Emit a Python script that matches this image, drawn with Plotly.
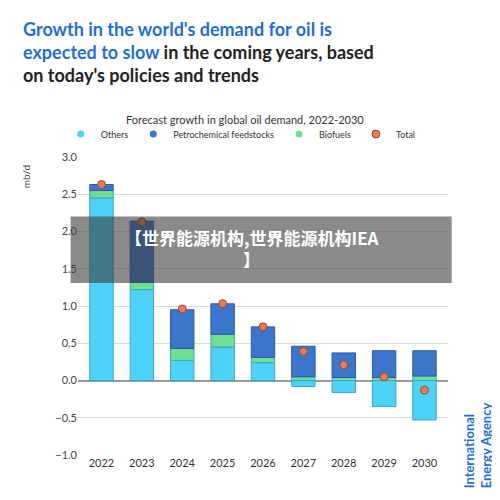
import plotly.graph_objects as go

years = ["2022","2023","2024","2025","2026","2027","2028","2029","2030"]
others = [2.45, 1.22, 0.27, 0.45, 0.24, -0.08, -0.16, -0.35, -0.53]
biofuels = [0.10, 0.10, 0.16, 0.17, 0.07, 0.05, 0.04, 0.04, 0.06]
petro = [0.08, 0.82, 0.52, 0.41, 0.41, 0.41, 0.33, 0.36, 0.34]
total = [2.63, 2.13, 0.96, 1.03, 0.72, 0.39, 0.21, 0.05, -0.13]

C_OTH, C_PET, C_BIO, C_TOT = "#4dd2f9", "#3b76cc", "#6fe08f", "#ee7a55"

fig = go.Figure()
fig.add_bar(x=years, y=others, name="Others", marker_color=C_OTH, marker_line_color="#3aa6c8", marker_line_width=1, showlegend=False)
fig.add_bar(x=years, y=biofuels, name="Biofuels", marker_color=C_BIO, marker_line_color="#3aa6c8", marker_line_width=1, showlegend=False)
fig.add_bar(x=years, y=petro, name="Petrochemical feedstocks", marker_color=C_PET, marker_line_color="#2a5aa0", marker_line_width=1, showlegend=False)
for nm, c in [("Others", C_OTH), ("Petrochemical feedstocks", C_PET), ("Biofuels", C_BIO)]:
    fig.add_scatter(x=[None], y=[None], mode="markers", name=nm, marker=dict(color=c, size=7))
fig.add_scatter(x=years, y=total, mode="markers", name="Total",
                marker=dict(color=C_TOT, size=8, line=dict(color="#8a4a30", width=1)))

fig.update_layout(
    width=500, height=500, barmode="relative", bargap=0.42,
    plot_bgcolor="white", paper_bgcolor="white",
    margin=dict(l=70, r=60, t=149, b=53),
    font=dict(family="Lato, Open Sans, sans-serif", color="#444"),
    title=dict(text="<b><span style='color:#1f6fd1'>Growth in the world's demand for oil is<br>expected to slow</span> in the coming years, based<br>on today's policies and trends</b>",
               x=0.03, xanchor="left", y=0.945, yanchor="top", font=dict(size=18, color="#222")),
    legend=dict(orientation="h", x=0.44, xanchor="center", y=1.077, yanchor="middle",
                font=dict(size=9, color="#333"), traceorder="normal", itemwidth=30),
    yaxis=dict(range=[-1.0, 3.0], dtick=0.5, tickformat=".1f", gridcolor="#dcdcdc",
               zeroline=True, zerolinecolor="#999", tickfont=dict(size=11, color="#444"), ticks=""),
    xaxis=dict(tickfont=dict(size=11, color="#333"), showline=False),
    shapes=[dict(type="rect", xref="paper", yref="paper", x0=-0.02, x1=1.01, y0=0.577, y1=0.80,
                 fillcolor="rgba(60,60,60,0.6)", line_width=0)],
    annotations=[
        dict(text="Forecast growth in global oil demand, 2022-2030", xref="paper", yref="paper",
             x=0.45, y=1.154, showarrow=False, font=dict(size=11, color="#333")),
        dict(text="mb/d", xref="paper", yref="paper", x=-0.16, y=0.98, textangle=-90,
             showarrow=False, font=dict(size=10, color="#444")),
        dict(text="<b>【世界能源机构,世界能源机构IEA</b>", xref="paper", yref="paper", x=0.47, y=0.78,
             showarrow=False, font=dict(size=17, color="white", family="Noto Sans CJK SC")),
        dict(text="<b>】</b>", xref="paper", yref="paper", x=0.47, y=0.655,
             showarrow=False, font=dict(size=17, color="white", family="Noto Sans CJK SC")),
        dict(text="<b>International<br>Energy Agency</b>", xref="paper", yref="paper", x=1.13, y=-0.12,
             yanchor="bottom", textangle=-90, showarrow=False, align="left",
             font=dict(size=13, color="#1f6fd1")),
    ],
)
fig.write_html("out.html")
